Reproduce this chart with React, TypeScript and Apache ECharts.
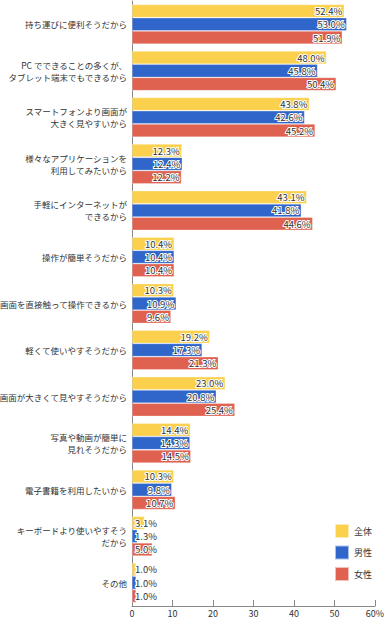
import React, { useEffect, useRef } from "react";
import * as echarts from "echarts";

const categories = [
  "持ち運びに便利そうだから",
  "PC でできることの多くが、\nタブレット端末でもできるから",
  "スマートフォンより画面が\n大きく見やすいから",
  "様々なアプリケーションを\n利用してみたいから",
  "手軽にインターネットが\nできるから",
  "操作が簡単そうだから",
  "画面を直接触って操作できるから",
  "軽くて使いやすそうだから",
  "画面が大きくて見やすそうだから",
  "写真や動画が簡単に\n見れそうだから",
  "電子書籍を利用したいから",
  "キーボードより使いやすそう\nだから",
  "その他",
];

const seriesNames = ["全体", "男性", "女性"];
const allValues = [52.4, 48.0, 43.8, 12.3, 43.1, 10.4, 10.3, 19.2, 23.0, 14.4, 10.3, 3.1, 1.0];
const maleValues = [53.0, 45.8, 42.6, 12.4, 41.8, 10.4, 10.9, 17.3, 20.8, 14.3, 9.8, 1.3, 1.0];
const femaleValues = [51.9, 50.4, 45.2, 12.2, 44.6, 10.4, 9.6, 21.3, 25.4, 14.5, 10.7, 5.0, 1.0];
const xTicks = [0, 10, 20, 30, 40, 50, 60];

const colors = ["#FAD04C", "#3065CA", "#DF6150"];
const FONT = "'Noto Sans CJK JP', 'Noto Sans', sans-serif";

export default function App() {
  const ref = useRef<HTMLDivElement>(null);
  useEffect(() => {
    if (!ref.current) return;
    const chart = echarts.init(ref.current, null, { renderer: "svg" });
    const mk = (vals: number[]) =>
      vals.map((v) => ({
        value: v,
        label: v < 6 ? { position: "insideLeft", distance: 3 } : { position: "insideRight", distance: 2 },
      }));
    const all = [allValues, maleValues, femaleValues];
    chart.setOption({
      animation: false,
      textStyle: { fontFamily: FONT },
      legend: {
        orient: "vertical",
        left: 329,
        top: 518,
        itemWidth: 14,
        itemHeight: 14,
        itemGap: 5.5,
        icon: "rect",
        data: seriesNames,
        textStyle: { fontSize: 9, color: "#333", fontFamily: FONT },
      },
      grid: { left: 132, right: 12, top: 1, bottom: 14, containLabel: false, outerBoundsMode: "none" },
      xAxis: {
        type: "value",
        min: 0,
        max: 60,
        interval: 10,
        axisLine: { show: true, lineStyle: { color: "#888" } },
        axisTick: { show: true, inside: true, length: 6, lineStyle: { color: "#888" } },
        splitLine: { show: false },
        axisLabel: {
          fontSize: 9,
          color: "#333",
          margin: 3,
          fontFamily: FONT,
          formatter: (v: number) => (v === xTicks[xTicks.length - 1] ? v + "%" : String(v)),
        },
      },
      yAxis: {
        type: "category",
        inverse: true,
        data: categories,
        axisLine: { show: true, lineStyle: { color: "#888" } },
        axisTick: { show: false },
        axisLabel: {
          fontSize: 8.5,
          color: "#333",
          margin: 5,
          lineHeight: 12,
          align: "right",
          fontFamily: FONT,
        },
      },
      series: seriesNames.map((name, i) => ({
        name,
        type: "bar",
        data: mk(all[i]),
        barWidth: 13,
        barGap: "2%",
        barCategoryGap: "16%",
        itemStyle: { color: colors[i], borderColor: "rgba(255,255,255,0.6)", borderWidth: 0.5 },
        label: {
          show: true,
          fontSize: 9.5,
          color: "#333",
          textBorderColor: "#fff",
          textBorderWidth: 2,
          fontFamily: FONT,
          formatter: (p: any) => Number(p.value).toFixed(1) + "%",
        },
      })),
    });
    return () => chart.dispose();
  }, []);
  return <div ref={ref} style={{ width: 387, height: 620, position: "absolute", left: 0, top: 0, background: "#fff" }} />;
}
